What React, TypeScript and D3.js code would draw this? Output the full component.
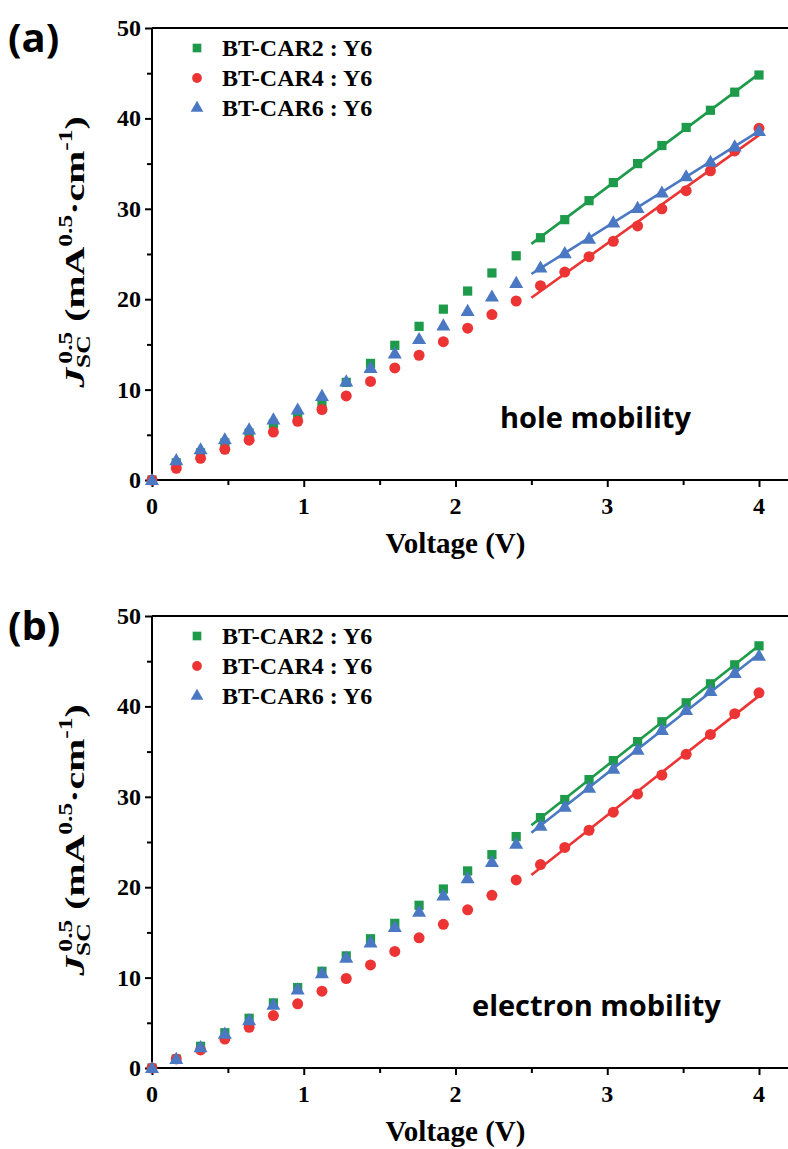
import React, { useEffect, useRef } from 'react';
import * as d3 from 'd3';

const voltage = [0, 0.16, 0.32, 0.48, 0.64, 0.8, 0.96, 1.12, 1.28, 1.44, 1.6, 1.76, 1.92, 2.08, 2.24, 2.4, 2.56, 2.72, 2.88, 3.04, 3.2, 3.36, 3.52, 3.68, 3.84, 4.0];

const holeCar2 = [0, 1.9, 3.0, 4.1, 5.2, 6.2, 7.0, 8.5, 10.8, 12.9, 14.9, 17.0, 18.9, 20.9, 22.9, 24.8, 26.8, 28.8, 30.9, 32.9, 35.0, 37.0, 39.0, 40.9, 42.9, 44.8];
const holeCar4 = [0, 1.3, 2.4, 3.4, 4.4, 5.3, 6.5, 7.8, 9.3, 10.9, 12.4, 13.8, 15.3, 16.8, 18.3, 19.8, 21.5, 23.0, 24.7, 26.4, 28.1, 30.0, 32.0, 34.2, 36.4, 38.9];
const holeCar6 = [0, 2.2, 3.4, 4.5, 5.6, 6.7, 7.8, 9.3, 10.9, 12.4, 14.0, 15.6, 17.1, 18.7, 20.3, 21.8, 23.5, 25.1, 26.7, 28.5, 30.1, 31.8, 33.6, 35.2, 36.9, 38.6];

const elecCar2 = [0, 1.0, 2.4, 3.9, 5.5, 7.2, 8.9, 10.7, 12.4, 14.3, 16.0, 18.0, 19.8, 21.8, 23.6, 25.6, 27.7, 29.7, 31.9, 34.0, 36.1, 38.3, 40.4, 42.5, 44.6, 46.7];
const elecCar4 = [0, 1.0, 2.0, 3.2, 4.5, 5.8, 7.1, 8.5, 9.9, 11.4, 12.9, 14.4, 15.9, 17.5, 19.1, 20.8, 22.5, 24.4, 26.3, 28.3, 30.3, 32.4, 34.7, 36.9, 39.2, 41.5];
const elecCar6 = [0, 1.0, 2.3, 3.8, 5.3, 7.0, 8.7, 10.5, 12.2, 13.9, 15.6, 17.3, 19.1, 21.0, 22.8, 24.8, 26.8, 28.9, 31.0, 33.1, 35.2, 37.4, 39.6, 41.7, 43.7, 45.6];

const seriesNames = ['BT-CAR2 : Y6', 'BT-CAR4 : Y6', 'BT-CAR6 : Y6'];
const seriesColors = ['#1d9a4a', '#ec3434', '#4a78c2'];
const seriesSymbols = [d3.symbolSquare, d3.symbolCircle, d3.symbolTriangle];
const xTicks = [0, 1, 2, 3, 4];
const yTicks = [0, 10, 20, 30, 40, 50];
const fitStart = 16; // first point used for the linear fit
const fitFrom = 2.5;

const W = 788;
const H = 1149;
const serif = '"Liberation Serif", "Times New Roman", serif';
const sans = '"Open Sans", "Noto Sans", sans-serif';

function drawPanel(
  root: d3.Selection<SVGGElement, unknown, null, undefined>,
  top: number,
  tag: string,
  note: string,
  noteX: number,
  series: number[][]
) {
  const x0 = 152, x1 = 759;
  const yTop = top, yBot = top + 452;
  const x = d3.scaleLinear().domain([0, 4]).range([x0, x1]);
  const y = d3.scaleLinear().domain([0, 50]).range([yBot, yTop]);

  const g = root.append('g');

  // frame: top line runs off the right edge
  g.append('line').attr('x1', x0).attr('x2', W).attr('y1', yTop).attr('y2', yTop)
    .attr('stroke', '#000').attr('stroke-width', 2);

  const xAxis = g.append('g').attr('transform', `translate(0,${yBot})`)
    .call(d3.axisBottom(x).tickValues(d3.range(0, 4.01, 0.5)).tickSize(6).tickFormat(() => ''));
  xAxis.select('.domain').attr('d', `M${x0},0H${W}`).attr('stroke-width', 2);
  xAxis.selectAll('.tick line').attr('stroke-width', 2)
    .attr('y2', (d: any) => (d % 1 === 0 ? 7 : 5));

  const yAxis = g.append('g').attr('transform', `translate(${x0},0)`)
    .call(d3.axisLeft(y).tickValues(d3.range(0, 50.1, 5)).tickSize(6).tickFormat(() => ''));
  yAxis.select('.domain').attr('d', `M0,${yBot}V${yTop}`).attr('stroke-width', 2);
  yAxis.selectAll('.tick line').attr('stroke-width', 2)
    .attr('x2', (d: any) => (d % 10 === 0 ? -7 : -5));

  g.selectAll('.xl').data(xTicks).enter().append('text')
    .attr('x', d => x(d)).attr('y', yBot + 34)
    .attr('text-anchor', 'middle')
    .style('font-family', serif).style('font-weight', 700).style('font-size', '24px')
    .text(d => d);

  g.selectAll('.yl').data(yTicks).enter().append('text')
    .attr('x', x0 - 11).attr('y', d => y(d) + 8)
    .attr('text-anchor', 'end')
    .style('font-family', serif).style('font-weight', 700).style('font-size', '24px')
    .text(d => d);

  g.append('text').attr('x', (x0 + x1) / 2).attr('y', yBot + 73)
    .attr('text-anchor', 'middle')
    .style('font-family', serif).style('font-weight', 700).style('font-size', '29px')
    .text('Voltage (V)');

  const yl = g.append('text')
    .attr('transform', `translate(84,${(yTop + yBot) / 2 - 2}) rotate(-90) scale(1.42,1)`)
    .attr('text-anchor', 'middle')
    .style('font-family', serif).style('font-weight', 700).style('font-size', '28px');
  yl.append('tspan').style('font-style', 'italic').text('J');
  yl.append('tspan').attr('dy', 6).style('font-size', '18px').text('SC');
  yl.append('tspan').attr('dx', -20).attr('dy', -18).style('font-size', '18px').text('0.5');
  yl.append('tspan').attr('dy', 12).text(' (mA');
  yl.append('tspan').attr('dy', -12).style('font-size', '18px').text('0.5');
  yl.append('tspan').attr('dy', 12).text('·cm');
  yl.append('tspan').attr('dy', -12).style('font-size', '18px').text('-1');
  yl.append('tspan').attr('dy', 12).text(')');

  g.append('text').attr('x', 8).attr('y', yTop + 24)
    .style('font-family', sans).style('font-weight', 700).style('font-size', '40px')
    .text(tag);

  g.append('text').attr('x', noteX).attr('y', yTop + 400)
    .style('font-family', sans).style('font-weight', 700).style('font-size', '29px')
    .text(note);

  const line = d3.line<[number, number]>().x(d => x(d[0])).y(d => y(d[1]));

  series.forEach((vals, i) => {
    // least-squares fit over the high-voltage points
    const fx = voltage.slice(fitStart);
    const fy = vals.slice(fitStart);
    const mx = d3.mean(fx) as number;
    const my = d3.mean(fy) as number;
    const slope = d3.sum(fx, (v, k) => (v - mx) * (fy[k] - my)) / d3.sum(fx, v => (v - mx) ** 2);
    const icpt = my - slope * mx;
    g.append('path')
      .attr('d', line([[fitFrom, icpt + slope * fitFrom], [4, icpt + slope * 4]]))
      .attr('stroke', seriesColors[i]).attr('stroke-width', 2.6).attr('fill', 'none');

    g.selectAll(`.p${i}`).data(vals).enter().append('path')
      .attr('transform', (d, k) => `translate(${x(voltage[k])},${y(d) + (i === 2 ? 1 : 0)})`)
      .attr('d', d3.symbol().type(seriesSymbols[i]).size(i === 2 ? 85 : i === 1 ? 95 : 85)())
      .attr('fill', seriesColors[i]);
  });

  // legend
  seriesNames.forEach((name, i) => {
    const ly = yTop + 20 + i * 30;
    g.append('path')
      .attr('transform', `translate(197,${ly})`)
      .attr('d', d3.symbol().type(seriesSymbols[i]).size(i === 2 ? 70 : 75)())
      .attr('fill', seriesColors[i]);
    g.append('text').attr('x', 222).attr('y', ly + 8)
      .style('font-family', serif).style('font-weight', 700).style('font-size', '24px')
      .text(name);
  });
}

const App: React.FC = () => {
  const svgRef = useRef<SVGSVGElement>(null);

  useEffect(() => {
    if (!svgRef.current) return;
    const svg = d3.select(svgRef.current);
    svg.selectAll('*').remove();
    const root = svg.append('g');
    drawPanel(root, 28, '(a)', 'hole mobility', 500, [holeCar2, holeCar4, holeCar6]);
    drawPanel(root, 616, '(b)', 'electron mobility', 472, [elecCar2, elecCar4, elecCar6]);
  }, []);

  return (
    <svg
      ref={svgRef}
      width={W}
      height={H}
      style={{ position: 'absolute', left: 0, top: 0, background: '#fff' }}
    />
  );
};

export default App;
